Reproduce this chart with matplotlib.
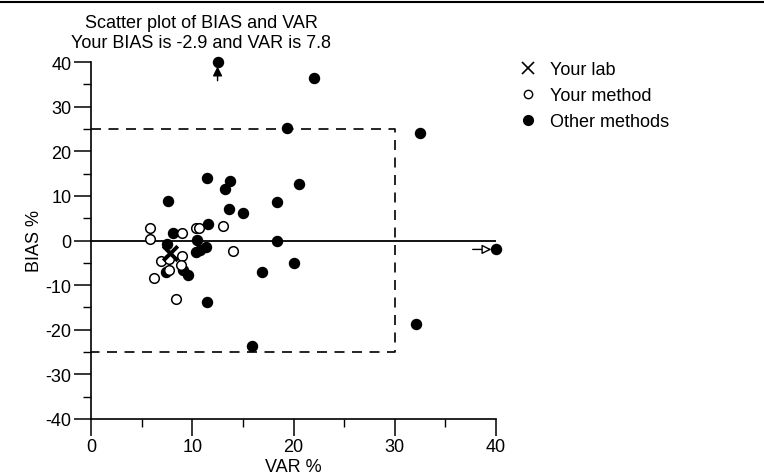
import matplotlib
matplotlib.use("Agg")
import matplotlib.pyplot as plt
from matplotlib.lines import Line2D
import numpy as np

plt.rcParams['font.family'] = ['Liberation Sans', 'DejaVu Sans']
plt.rcParams['axes.unicode_minus'] = False

# ---- data ----
title_lines = ["Scatter plot of BIAS and VAR", "Your BIAS is -2.9 and VAR is 7.8"]
your_lab_var = [7.8]
your_lab_bias = [-2.9]

your_method_var = [5.8, 5.8, 9.0, 10.4, 10.7, 13.0, 14.0, 9.0, 6.9, 7.7, 8.9, 7.7, 6.2, 8.4]
your_method_bias = [2.7, 0.4, 1.6, 2.7, 2.9, 3.3, -2.3, -3.4, -4.6, -4.1, -5.5, -6.5, -8.3, -13.0]

# values beyond the axis range (>40) are shown clipped at the edge with an arrow
other_var = [12.5, 22.0, 19.4, 32.5, 11.5, 13.7, 13.2, 20.5, 7.6, 18.4, 13.6, 15.05,
             11.6, 8.1, 10.5, 18.4, 7.5, 45.0, 11.4, 10.8, 10.4, 20.0, 16.9, 7.4,
             9.1, 9.6, 11.5, 32.1, 15.9]
other_bias = [45.0, 36.5, 25.1, 24.2, 13.9, 13.3, 11.5, 12.6, 8.9, 8.6, 7.0, 6.2,
              3.6, 1.6, 0.1, -0.1, -0.8, -2.0, -1.4, -2.2, -2.5, -5.0, -7.0, -7.1,
              -6.5, -7.8, -13.8, -18.8, -23.6]

x_lim = (0, 40)
y_lim = (-40, 40)
x_ticks = [0, 10, 20, 30, 40]
y_ticks = [-40, -30, -20, -10, 0, 10, 20, 30, 40]
limit_var = 30
limit_bias = 25
legend_labels = ["Your lab", "Your method", "Other methods"]

# ---- figure ----
fig = plt.figure(figsize=(7.64, 4.77), dpi=100)
ax = fig.add_axes([91/764, 1-420/477, (496-91)/764, (420-63)/477])
ax.set_xlim(*x_lim)
ax.set_ylim(*y_lim)

for s in ['top', 'right']:
    ax.spines[s].set_visible(False)
for s in ['left', 'bottom']:
    ax.spines[s].set_linewidth(1.2)

# zero line and dashed limit box
ax.plot([x_lim[0], x_lim[1]], [0, 0], color='black', lw=1.3, zorder=2)
ax.plot([0, limit_var, limit_var, 0], [limit_bias, limit_bias, -limit_bias, -limit_bias],
        color='black', lw=1.2, dashes=(6, 4.5), zorder=2)

# clip other-method points to axis range
ov = np.clip(other_var, x_lim[0], x_lim[1])
ob = np.clip(other_bias, y_lim[0], y_lim[1])
ax.scatter(ov, ob, s=52, c='black', edgecolors='black', zorder=4, clip_on=False)
ax.scatter(your_method_var, your_method_bias, s=48, facecolors='white',
           edgecolors='black', linewidths=1.1, zorder=5, clip_on=False)
ax.scatter(your_lab_var, your_lab_bias, s=110, marker='x', c='black',
           linewidths=2.8, zorder=6)

# arrows for off-scale points
for v, b, vv, bb in zip(other_var, other_bias, ov, ob):
    if b > y_lim[1]:
        ax.annotate('', xy=(vv, bb - 1.0), xytext=(vv, bb - 4.2),
                    arrowprops=dict(arrowstyle='-|>', color='black', lw=1.0,
                                    mutation_scale=14, shrinkA=0, shrinkB=0))
    if v > x_lim[1]:
        ax.annotate('', xy=(vv - 0.45, bb), xytext=(vv - 2.3, bb),
                    arrowprops=dict(arrowstyle='-|>', facecolor='white',
                                    edgecolor='black', lw=1.0,
                                    mutation_scale=14, shrinkA=0, shrinkB=0))

ax.set_xticks(x_ticks)
ax.set_yticks(y_ticks)
ax.set_xticks([5, 15, 25, 35], minor=True)
ax.set_yticks([-35, -25, -15, -5, 5, 15, 25, 35], minor=True)
ax.tick_params(axis='both', which='major', length=12, width=1.1, labelsize=13,
               direction='out', pad=2)
ax.tick_params(axis='both', which='minor', length=6, width=1.0, direction='out')

ax.set_xlabel("VAR %", fontsize=13, labelpad=2)
ax.set_ylabel("BIAS %", fontsize=13, labelpad=2)

# title
fig.text(201/764, 1-23/477, title_lines[0], ha='center', va='center', fontsize=13)
fig.text(201/764, 1-43/477, title_lines[1], ha='center', va='center', fontsize=13)

# legend
handles = [
    Line2D([], [], marker='x', color='black', ls='none', markersize=9, markeredgewidth=1.2),
    Line2D([], [], marker='o', markerfacecolor='white', markeredgecolor='black',
           ls='none', markersize=6, markeredgewidth=1.0),
    Line2D([], [], marker='o', color='black', ls='none', markersize=7),
]
fig.legend(handles, legend_labels, loc='upper left',
           bbox_to_anchor=(510/764, 1-55/477), frameon=False, fontsize=13,
           handletextpad=0.6, labelspacing=0.5, handlelength=1.2, borderaxespad=0)

# top border line
fig.add_artist(Line2D([0, 1], [1-3/477, 1-3/477], color='black', lw=1.5,
                      transform=fig.transFigure))

fig.savefig("out.png", dpi=100)
